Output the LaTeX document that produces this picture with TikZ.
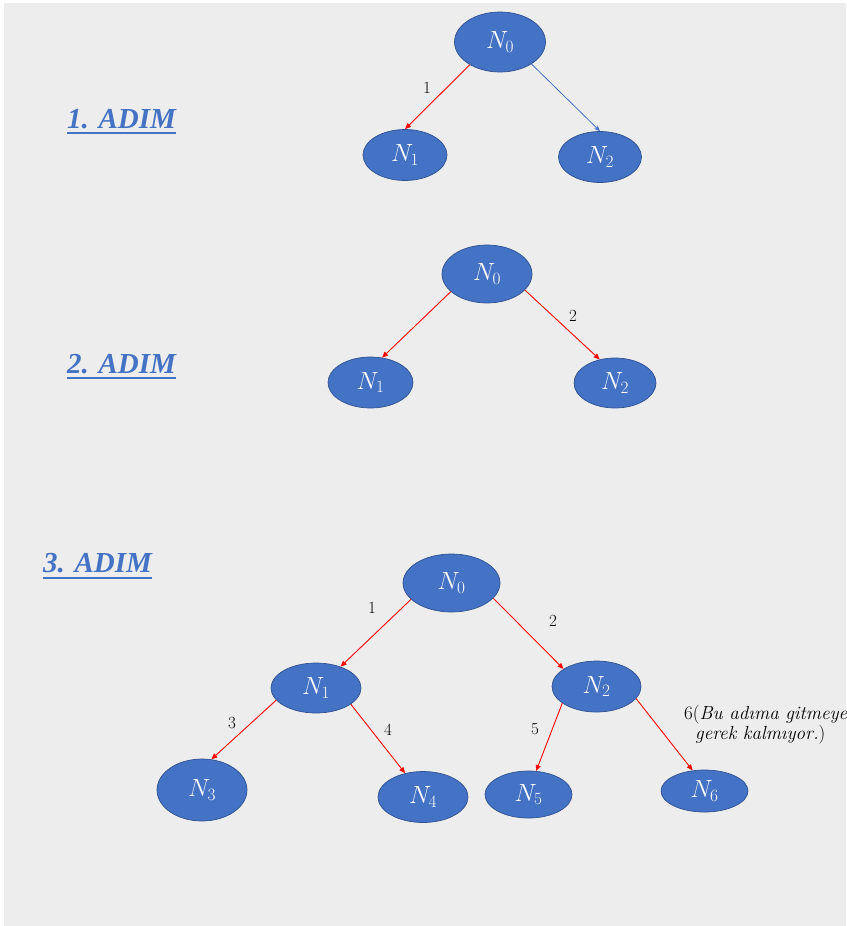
\documentclass[tikz,border=0pt]{standalone}
\usepackage{fontspec}
\newfontfamily\timesf{Liberation Serif}
\usetikzlibrary{shapes.geometric,arrows.meta}
\definecolor{bg}{HTML}{EDEDED}
\definecolor{nodefill}{HTML}{4472C4}
\definecolor{nodeline}{HTML}{2F528F}
\definecolor{redline}{HTML}{FF0000}
\tikzset{
  nd/.style={ellipse, draw=nodeline, line width=0.7pt, fill=nodefill, inner sep=0pt,
    text=white, font=\fontsize{23}{27}\selectfont},
  redarrow/.style={draw=redline, line width=0.9pt, -{Triangle[length=6pt,width=5pt]}},
  bluearrow/.style={draw=nodefill, line width=0.8pt, -{Stealth[length=6pt,width=5pt]}},
  elabel/.style={font=\fontsize{17}{19}\selectfont, text=black, inner sep=0pt},
  heading/.style={font=\timesf\bfseries\itshape\fontsize{29}{32}\selectfont, text=nodefill,
    inner sep=0pt, anchor=base west},
  ul/.style={draw=nodefill, line width=2.2pt},
  note/.style={font=\fontsize{19}{22}\selectfont, text=black, inner sep=0pt, anchor=base west}
}
\begin{document}
\begin{tikzpicture}[x=1pt,y=-1pt]
\useasboundingbox (0,0) rectangle (846,926);
\fill[white] (0,0) rectangle (846,926);
\fill[bg] (4,3) rectangle (846,926);
\begin{scope}
\clip (0,0) rectangle (846,926);

% headings
\node[heading] (h1) at (67,128) {1. ADIM};
\draw[ul] ([yshift=-5pt]h1.base west) -- ([yshift=-5pt]h1.base east);
\node[heading] (h2) at (67,373) {2. ADIM};
\draw[ul] ([yshift=-5pt]h2.base west) -- ([yshift=-5pt]h2.base east);
\node[heading] (h3) at (43,572) {3. ADIM};
\draw[ul] ([yshift=-6pt]h3.base west) -- ([yshift=-6pt]h3.base east);

% step 1
\node[nd, minimum width=91pt, minimum height=60pt] (a0) at (500,42) {$N_0$};
\node[nd, minimum width=84pt, minimum height=51pt] (a1) at (405,155) {$N_1$};
\node[nd, minimum width=83pt, minimum height=51pt] (a2) at (600,157) {$N_2$};
\draw[redarrow] (a0.217) -- (a1.north);
\draw[bluearrow] (a0.325) -- (a2.north);
\node[elabel] (la1) at (427,88) {1};

% step 2
\node[nd, minimum width=90pt, minimum height=58pt] (b0) at (487,274) {$N_0$};
\node[nd, minimum width=85pt, minimum height=51pt] (b1) at (370.5,382.5) {$N_1$};
\node[nd, minimum width=82pt, minimum height=50pt] (b2) at (615,383) {$N_2$};
\draw[redarrow] (b0.206) -- (b1.65);
\draw[redarrow] (b0.337) -- (b2.123);
\node[elabel] (lb2) at (573,316) {2};

% step 3
\node[nd, minimum width=97pt, minimum height=58pt] (c0) at (451.5,583) {$N_0$};
\node[nd, minimum width=90pt, minimum height=50pt] (c1) at (316,688) {$N_1$};
\node[nd, minimum width=89pt, minimum height=51pt] (c2) at (596.5,686.5) {$N_2$};
\node[nd, minimum width=90pt, minimum height=62pt] (c3) at (202,790) {$N_3$};
\node[nd, minimum width=90pt, minimum height=51pt] (c4) at (423,797) {$N_4$};
\node[nd, minimum width=87pt, minimum height=47pt] (c5) at (528.5,794.5) {$N_5$};
\node[nd, minimum width=87pt, minimum height=42pt] (c6) at (704.5,791) {$N_6$};
\draw[redarrow] (c0.202) -- (c1.41);
\draw[redarrow] (c0.340) -- (c2.152);
\draw[redarrow] (c1.197) -- (c3.73);
\draw[redarrow] (c1.335) -- (c4.127);
\draw[redarrow] (c2.206) -- (c5.72);
\draw[redarrow] (c2.343) -- (c6.120);
\node[elabel] (lc1) at (372,608) {1};
\node[elabel] (lc2) at (553,621) {2};
\node[elabel] (lc3) at (232,723) {3};
\node[elabel] (lc4) at (388,730) {4};
\node[elabel] (lc5) at (535,729) {5};
\node[note] (n1) at (684,719) {6(\textit{Bu adıma gitmeye}};
\node[note] (n2) at (695,739) {\textit{gerek kalmıyor.})};
\end{scope}
\end{tikzpicture}
\end{document}
